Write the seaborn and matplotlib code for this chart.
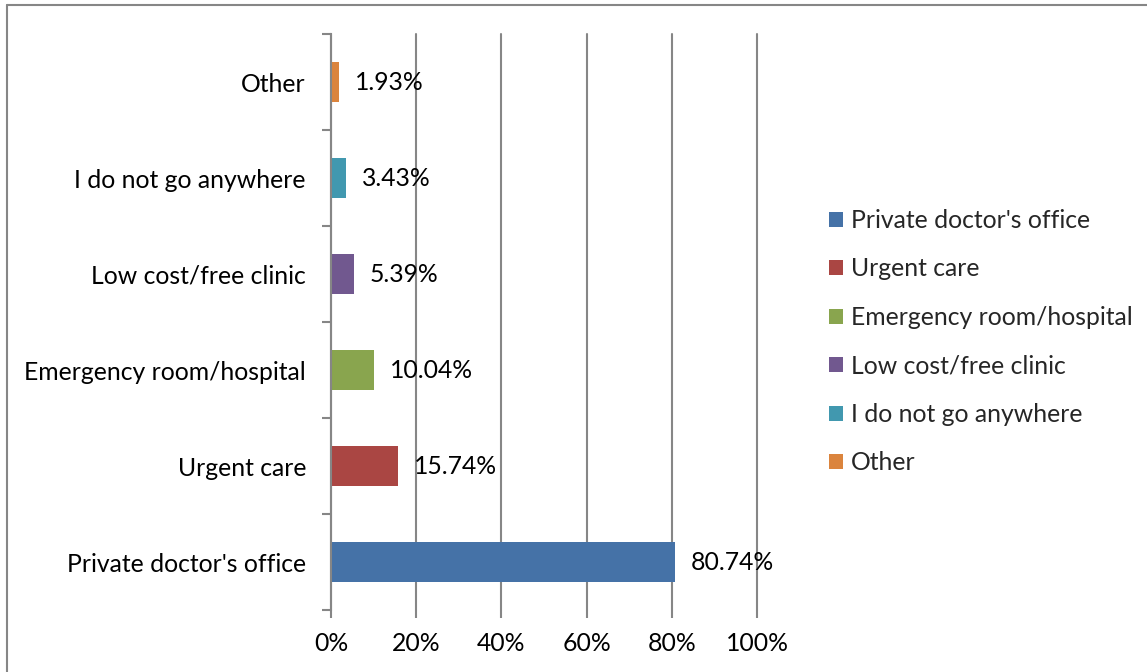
import matplotlib
matplotlib.use("Agg")
import matplotlib.pyplot as plt
from matplotlib.patches import Patch
from matplotlib.lines import Line2D
import seaborn as sns
import pandas as pd

# Where respondents go for care (percent of respondents)
categories = ["Other", "I do not go anywhere", "Low cost/free clinic",
              "Emergency room/hospital", "Urgent care", "Private doctor's office"]
values = [1.93, 3.43, 5.39, 10.04, 15.74, 80.74]
colors = ["#DB843D", "#4198AF", "#71588F", "#89A54E", "#AA4643", "#4572A7"]
x_ticks = [0, 20, 40, 60, 80, 100]
x_tick_labels = ["0%", "20%", "40%", "60%", "80%", "100%"]

sns.set_theme(style="white")
plt.rcParams["font.family"] = ["Lato", "DejaVu Sans"]
FS = 17.8
GRID = "#868686"

df = pd.DataFrame({"place": categories, "pct": values})
palette = dict(zip(categories, colors))

fig = plt.figure(figsize=(11.47, 6.72), dpi=100)
ax = fig.add_axes([331 / 1147, 62 / 672, 426 / 1147, 576 / 672])

sns.barplot(data=df, y="place", x="pct", hue="place", order=categories,
            palette=palette, width=0.41, dodge=False, legend=False,
            saturation=1, linewidth=0, ax=ax, zorder=3)

ax.set_xlim(0, 100)
ax.set_ylim(len(categories) - 0.5, -0.5)
ax.set_xticks(x_ticks)
ax.set_xticklabels(x_tick_labels, fontsize=FS, color="black")
ax.set_yticks(range(len(categories)))
ax.set_yticklabels(categories, fontsize=FS, color="black")
ax.set_yticks([i - 0.5 for i in range(len(categories) + 1)], minor=True)
ax.tick_params(axis="y", which="major", length=0, pad=18)
ax.tick_params(axis="y", which="minor", length=6.5, width=1.5, color=GRID, direction="out", left=True)
ax.tick_params(axis="x", which="major", length=6, width=1.5, color=GRID, direction="out", bottom=True, pad=10)
ax.set_xlabel("")
ax.set_ylabel("")

ax.grid(axis="x", color=GRID, linewidth=1.5, zorder=0)
ax.grid(axis="y", visible=False)
for gl in ax.get_xgridlines():
    gl.set_clip_on(False)
for side in ("top", "right", "bottom"):
    ax.spines[side].set_visible(False)
ax.spines["left"].set_color(GRID)
ax.spines["left"].set_linewidth(1.5)
ax.spines["left"].set_zorder(4)

for i, v in enumerate(values):
    ax.annotate(f"{v:.2f}%", xy=(v, i), xytext=(11.5, 0), textcoords="offset points",
                va="center", ha="left", fontsize=FS, color="black", zorder=5)

# Legend lists the series from the bottom bar upwards
handles = [Patch(facecolor=c, edgecolor="none", label=n)
           for n, c in zip(categories[::-1], colors[::-1])]
fig.legend(handles=handles, loc="upper left", bbox_to_anchor=(829 / 1147, 1 - 209 / 672),
           frameon=False, fontsize=FS, handlelength=0.57, handleheight=0.57,
           handletextpad=0.32, labelspacing=1.03, borderaxespad=0, borderpad=0)

# Outer frame of the chart area
fig.add_artist(Line2D([7 / 1147, 1.0], [1 - 5 / 672, 1 - 5 / 672], color=GRID, lw=1.5,
                      transform=fig.transFigure))
fig.add_artist(Line2D([7 / 1147, 7 / 1147], [0.0, 1 - 5 / 672], color=GRID, lw=1.5,
                      transform=fig.transFigure))

fig.savefig("out.png", dpi=100, facecolor="white")
